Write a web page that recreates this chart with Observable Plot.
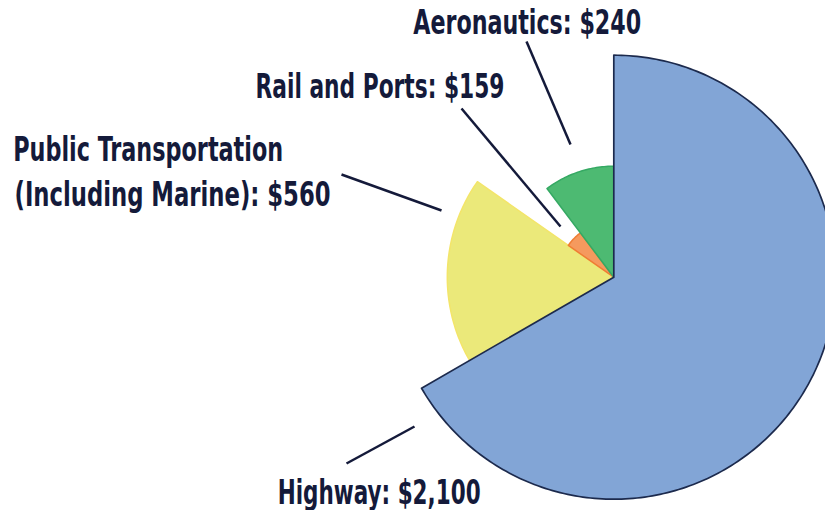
<!DOCTYPE html>
<html><head><meta charset="utf-8">
<script src="https://cdn.jsdelivr.net/npm/d3@7"></script>
<script src="https://cdn.jsdelivr.net/npm/@observablehq/plot@0.6"></script>
<style>body{margin:0;background:#fff} svg text{font-stretch:condensed}</style>
</head><body><div id="chart"></div>
<script>
// ---- data ----
const categories = ["Highway", "Public Transportation (Including Marine)", "Rail and Ports", "Aeronautics"];
const amounts = [2100, 560, 159, 240];
const sweepDegrees = [240, 65, 18, 37];   // angular size of each slice as drawn
const radiusRank = [4, 3, 1, 2];           // slice radius relative to the largest (out of 4)
const labelLines = [
  ["Highway: $2,100"],
  ["Public Transportation", "(Including Marine): $560"],
  ["Rail and Ports: $159"],
  ["Aeronautics: $240"]
];
const fills = ["#82a5d6", "#ebe97a", "#f59a5e", "#4dba72"];
const strokes = ["#1c2a4d", "#f3e56a", "#ef7d34", "#35a963"];

// ---- layout ----
const W = 825, H = 510;
const cx = 613.3, cy = 276.7, R = 222;
const textLayout = [
  [{x: 378.7, y: 503, anchor: "middle", w: 203}],
  [{x: 12.7, y: 160, anchor: "start", w: 270}, {x: 14, y: 205, anchor: "start", w: 316}],
  [{x: 379.5, y: 97, anchor: "middle", w: 249}],
  [{x: 526.7, y: 33, anchor: "middle", w: 228}]
];
const leaderLayout = [
  {x1: 346, y1: 463, x2: 414, y2: 426},
  {x1: 341, y1: 174, x2: 441, y2: 210},
  {x1: 461, y1: 108, x2: 560, y2: 226},
  {x1: 526, y1: 41, x2: 570, y2: 144}
];

// build slice outlines
let acc = 0;
const slices = categories.map((c, i) => {
  const a0 = acc, a1 = acc + sweepDegrees[i];
  acc = a1;
  const r = R * radiusRank[i] / 4;
  const pts = [{x: cx, y: cy}];
  const n = Math.max(4, Math.ceil(a1 - a0));
  for (let k = 0; k <= n; k++) {
    const t = (a0 + (a1 - a0) * k / n) * Math.PI / 180;
    pts.push({x: cx + r * Math.sin(t), y: cy - r * Math.cos(t)});
  }
  pts.push({x: cx, y: cy});
  return {i, pts};
});
const order = [1, 2, 3, 0];
const texts = labelLines.flatMap((lines, i) => lines.map((t, j) => ({text: t, value: amounts[i], ...textLayout[i][j]})));
const leaders = categories.map((c, i) => ({category: c, ...leaderLayout[i]}));
const font = "'DejaVu Sans', sans-serif";
const textOpts = {x: "x", y: "y", text: "text", lineAnchor: "bottom", fontSize: 33, fontWeight: "bold", fill: "#141a3a", fontFamily: font};

const chart = Plot.plot({
  width: W, height: H, margin: 0,
  x: {domain: [0, W], axis: null},
  y: {domain: [H, 0], axis: null},
  marks: [
    ...order.map(i => Plot.line(slices[i].pts, {x: "x", y: "y", fill: fills[i], stroke: strokes[i], strokeWidth: i === 0 ? 1.7 : 1.5, strokeLinejoin: "round"})),
    Plot.link(leaders, {x1: "x1", y1: "y1", x2: "x2", y2: "y2", stroke: "#141a3a", strokeWidth: 2.5}),
    Plot.text(texts.filter(d => d.anchor === "middle"), {...textOpts, textAnchor: "middle"}),
    Plot.text(texts.filter(d => d.anchor === "start"), {...textOpts, textAnchor: "start"})
  ]
});
document.getElementById("chart").appendChild(chart);
// fit each label line to the width it has in the picture
chart.querySelectorAll("text").forEach(el => {
  const d = texts.find(t => t.text === el.textContent);
  if (!d) return;
  el.setAttribute("textLength", d.w);
  el.setAttribute("lengthAdjust", "spacingAndGlyphs");
});
</script>
</body></html>
